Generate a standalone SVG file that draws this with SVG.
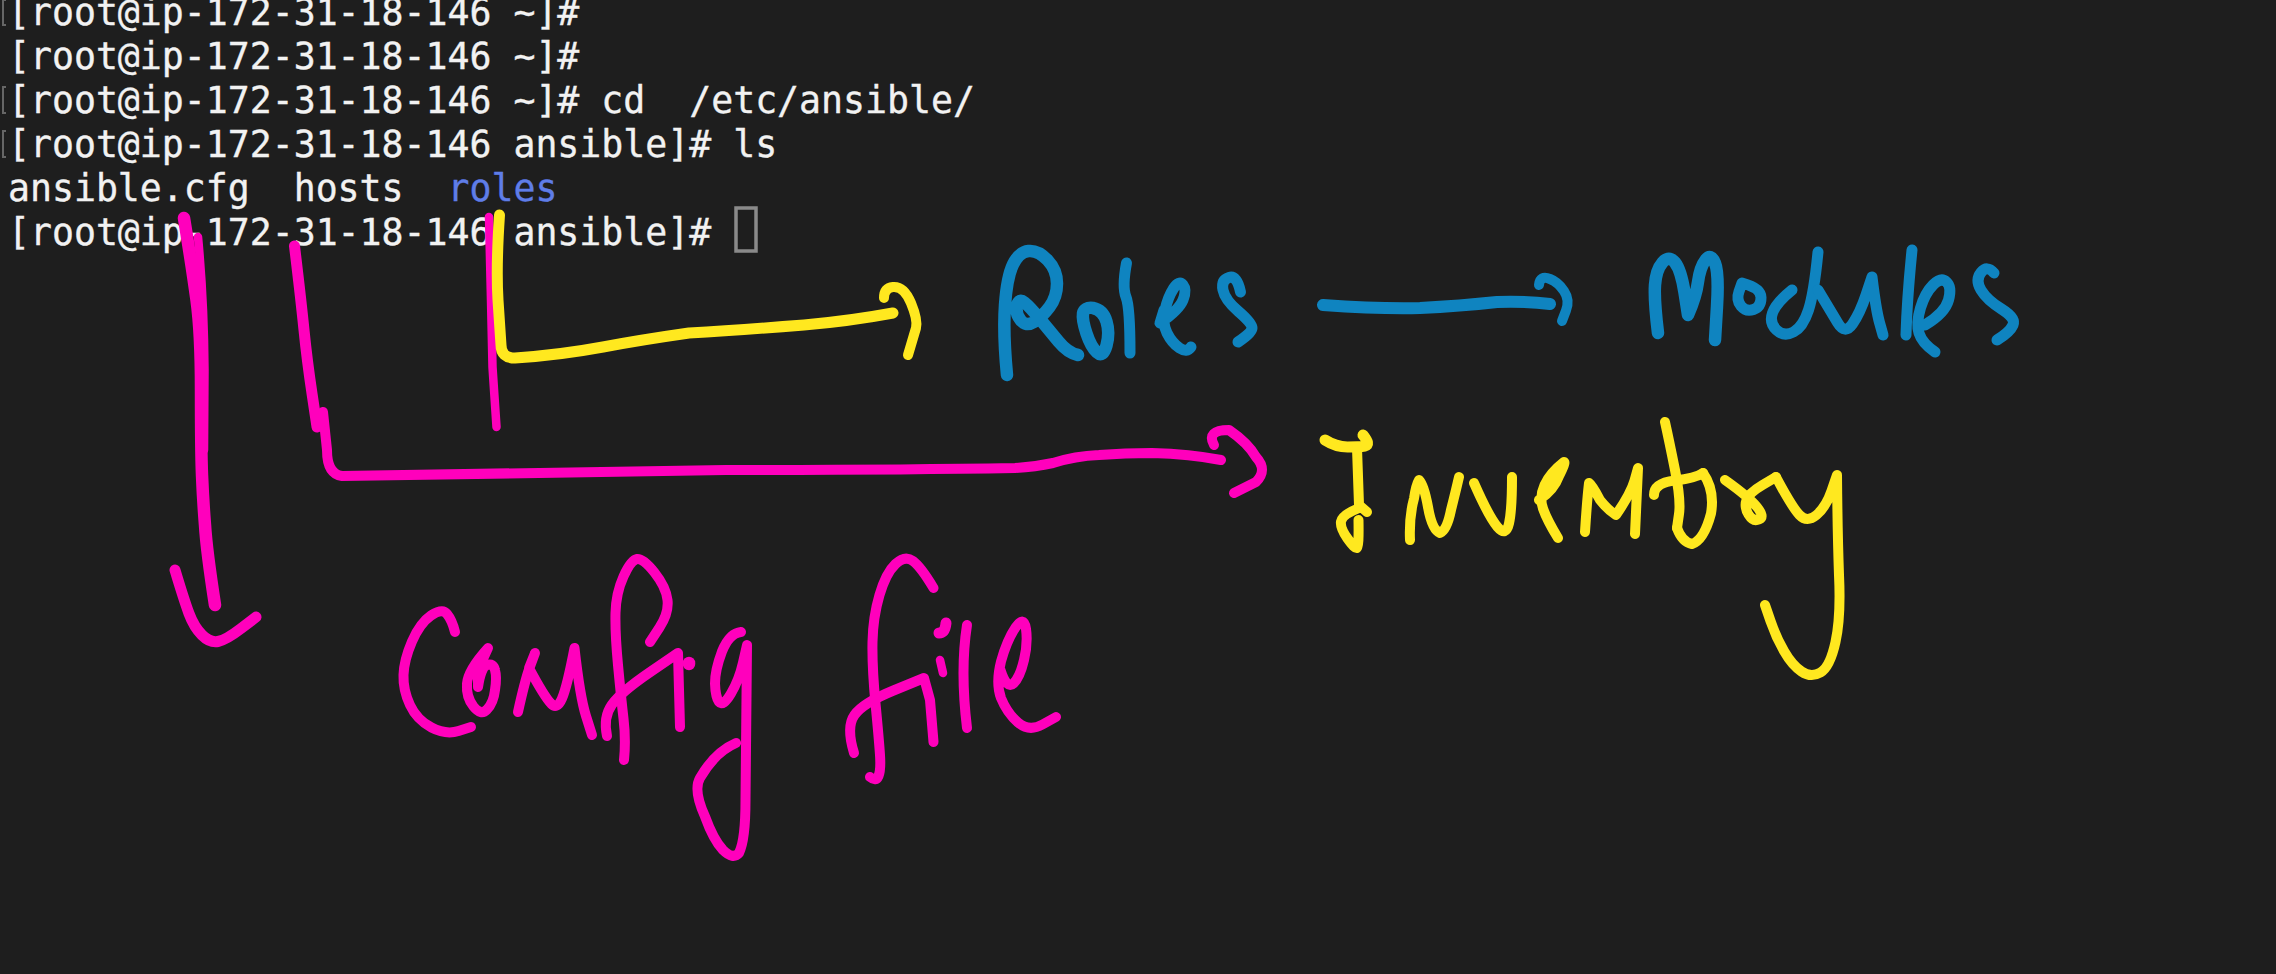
<svg xmlns="http://www.w3.org/2000/svg" width="2276" height="974" viewBox="0 0 2276 974">
<style>
text{font-family:"DejaVu Sans Mono","Liberation Mono",monospace;font-size:36.5px;fill:#f2f2f2;stroke:#f2f2f2;stroke-width:.35;white-space:pre}
.dir{fill:#5f7de8;stroke:#5f7de8}
.mark{fill:none;stroke:#666;stroke-width:2}
path.s{fill:none;stroke-linecap:round;stroke-linejoin:round}
.m{stroke:#ff00bc}.y{stroke:#ffe81f}.b{stroke:#0f84c0}
.w7{stroke-width:8.500}.w8{stroke-width:10}.w9{stroke-width:11}.w10{stroke-width:12.500}.w11{stroke-width:12}
</style>
<rect width="2276" height="974" fill="#1e1e1e"/>
<g id="terminal">
<text x="8" y="24.500">[root@ip-172-31-18-146 ~]#</text>
<text x="8" y="68.500">[root@ip-172-31-18-146 ~]#</text>
<text x="8" y="112.500">[root@ip-172-31-18-146 ~]# cd  /etc/ansible/</text>
<text x="8" y="156.500">[root@ip-172-31-18-146 ansible]# ls</text>
<text x="8" y="200.500">ansible.cfg  hosts  <tspan class="dir">roles</tspan></text>
<text x="8" y="244.500">[root@ip-172-31-18-146 ansible]#</text>
<rect x="736" y="208" width="20" height="43" fill="none" stroke="#8a8a8a" stroke-width="3.5"/>
<path class="mark" d="M6 0H3V25H6M6 87H3V113H6M6 131H3V157H6"/>
</g>
<g id="connectors">
<path class="s m w10" d="M184 218Q192 267 196.500 300Q201 333 201 390Q201 450 202 475Q203 500 205 525Q206.500 550 215 605"/>
<path class="s m w7" d="M198 237Q204 300 204.500 370L204 450"/>
<path class="s m w9" d="M175 570Q184 600 189 613.500Q194 627 202 635Q210 643 218 641.500Q226 640 241 628.500L256 617"/>
<path class="s m w9" d="M294.500 246Q301 300 304 330Q307 360 312 393.500L317 427"/>
<path class="s m w8" d="M323 412L327 450Q327 474 342 476Q540 473 726 470Q900 470 1015 468Q1035 467 1053 463Q1075 456 1099 455Q1125 453 1152 453Q1190 454 1221 460"/>
<path class="s m w8" d="M1214 445Q1206 430 1229 430Q1248 443 1256 457Q1268 470 1256 482L1234 493"/>
<path class="s m w7" d="M489 217L491 300L492.500 367L496.500 427"/>
<path class="s y w9" d="M499.500 215Q496 267 498 300L501 345Q501 358 515 358Q560 355 603 347Q640 340 689 333Q740 330 804 325Q850 321 893 313"/>
<path class="s y w8" d="M884 298Q884 288 893 287Q904 286 911 303Q918 320 916 328L908 355"/>
<path class="s b w11" d="M1323 305Q1380 309 1420 308Q1460 306 1497 302Q1525 301 1550 304"/>
<path class="s b w8" d="M1539 285Q1540 275 1550 279Q1558 282 1564 291Q1570 300 1566 310.500L1562 321"/>
</g>
<g id="roles">
<path class="s b w10" d="M1007 375Q1003 333 1005 305Q1007 277 1013 264.500Q1019 252 1028.500 251Q1038 250 1047.500 260Q1057 270 1057 283.500Q1057 297 1049.500 307Q1042 317 1034 322Q1026 327 1020.500 320Q1015 313 1017 305.500Q1019 298 1024.500 302.500Q1030 307 1039.500 318.500Q1049 330 1058.500 341.500Q1068 353 1078 355"/>
<path class="s b w10" d="M1093 308Q1103 310 1106.500 321.500Q1110 333 1106.500 345.500Q1103 358 1097 352.500Q1091 347 1086.500 333.500Q1082 320 1083 313.500Q1084 307 1093 308Z"/>
<path class="s b w9" d="M1126.500 263Q1122 287 1126 297Q1130 307 1130 353"/>
<path class="s b w9" d="M1164 310L1160 323Q1179 310 1183 300Q1187 290 1183 285Q1179 280 1173.500 288.500Q1168 297 1165 310Q1162 323 1167 333Q1172 343 1179.500 348Q1187 353 1191 347"/>
<path class="s b w9" d="M1240.500 292Q1237 275 1229 277.500Q1221 280 1223 290Q1225 300 1238.500 311.500Q1252 323 1252 328Q1252 333 1238 342"/>
</g>
<g id="modules">
<path class="s b w10" d="M1658 333Q1654 300 1655 285Q1656 270 1662.500 262.500Q1669 255 1675 262.500Q1681 270 1684.500 292.500L1688 315Q1696 297 1698 282Q1700 267 1705.500 260Q1711 253 1715 263Q1719 273 1717 306.500L1715 340"/>
<path class="s b w9" d="M1742 283Q1761 288 1761 297.500Q1761 307 1753.500 309.500Q1746 312 1741 306Q1736 300 1739 291.500L1742 283Z"/>
<path class="s b w9" d="M1792 290Q1776 303 1772.500 313Q1769 323 1776.500 330Q1784 337 1793.500 332Q1803 327 1808.500 310Q1814 293 1818 252"/>
<path class="s b w9" d="M1818 290Q1830 310 1837.500 322.500Q1845 335 1852.500 324Q1860 313 1866 295L1872 277Q1876 310 1879.500 322.500L1883 335"/>
<path class="s b w9" d="M1912 250Q1907 300 1906 335"/>
<path class="s b w9" d="M1925 325Q1945 313 1948.500 300Q1952 287 1946.500 282Q1941 277 1933 285Q1925 293 1920.500 308Q1916 323 1919 333Q1922 343 1935 352"/>
<path class="s b w9" d="M1994 273Q1987 265 1981 272.500Q1975 280 1981 290Q1987 300 2001.500 309Q2016 318 2013 325Q2010 332 1997 340"/>
</g>
<g id="inventory">
<path class="s y w9" d="M1325 440Q1336 447 1347.500 447Q1359 447 1365 446Q1371 445 1363 435"/>
<path class="s y w8" d="M1357 448L1359 505L1367 512M1359 508Q1342 515 1341 521.500Q1340 528 1347.500 538.500Q1355 549 1357 548Q1359 547 1358.500 520"/>
<path class="s y w8" d="M1410 540Q1409 517 1414 498.500Q1416 485 1419 480Q1424 485 1428 507Q1432 530 1440 533Q1447 530 1451 510Q1456 490 1459 477"/>
<path class="s y w8" d="M1474 483Q1489 517 1497.500 527Q1506 537 1509 523.500Q1512 510 1512 477"/>
<path class="s y w8" d="M1539 500Q1554 490 1559 476Q1566 462 1564 462Q1550 473 1544.500 485Q1539 497 1543 508.500Q1547 520 1558 538"/>
<path class="s y w8" d="M1585 532Q1587 500 1589 483Q1592 485 1600 500Q1608 510 1616 515Q1631 493 1634.500 480.500L1638 468L1635 534"/>
<path class="s y w8" d="M1665 422Q1669 440 1675 470Q1681 500 1679 514L1677 528"/>
<path class="s y w8" d="M1654 495Q1654 483 1675 480.500Q1696 478 1703 473"/>
<path class="s y w8" d="M1677 528Q1682 542 1692 544Q1704 540 1711 513.500Q1715 490 1703 473"/>
<path class="s y w8" d="M1725 480Q1749 497 1757 507Q1765 517 1759 519.500Q1753 522 1748.500 514.500Q1744 507 1746.500 500Q1749 493 1762.500 485L1776 477"/>
<path class="s y w8" d="M1776 477Q1792 507 1799.500 515Q1807 523 1816.500 515Q1826 507 1831.500 491L1837 475Q1837.500 533 1839 575Q1841 617 1835.500 642Q1830 667 1820.500 672.500Q1811 678 1801.500 671.500Q1792 665 1784 651Q1776 637 1770.500 621L1765 605"/>
</g>
<g id="config-file">
<path class="s m w8" d="M455 632Q452 620 447 614Q442.500 608 431 615.500Q420 623 412 641.500Q404 660 403.500 675Q403 690 410 705Q417 720 431.500 727.500Q446 735 458.500 731L471 727"/>
<path class="s m w8" d="M478 687L478 670L488 648Q468 670 467 683.500Q466 697 473.500 706.500Q481 716 487 709.500Q493.500 703 495 690Q497 677 495 670Q493.500 663 487 665Q481 667 478 687"/>
<path class="s m w8" d="M518 712Q525 680 530 666.500L535 653L529 668Q544.500 697 551 703.500Q557 710 562 698.500Q567 687 574.500 648Q580 697 586 716L592 735"/>
<path class="s m w8" d="M624 760Q626 740 623.500 718.500Q621 697 618 665Q615 633 615.500 613Q616 593 623.500 576.500Q631 560 637 559Q643 558 654.500 572.500Q666 587 667.500 600Q669 613 659.500 627.500L650 642"/>
<path class="s m w8" d="M607 736Q603 717 612 704.500Q621 692 649.500 672.500L678 653L680 727"/>
<path class="s m w10" d="M689 663L689 664"/>
<path class="s m w8" d="M741 632Q729.500 633 722 651.500Q715 670 715 683.500Q715.500 697 719 702Q723 707 731 693.500Q739 680 743 662.500L747 645L745.500 800Q745.500 840 739 853Q733 860 723 850Q713.500 840 705 816.500Q693 790 700 778Q715 752 736 743"/>
<path class="s m w8" d="M933.500 588Q921 567 913 561Q905 555 895.500 564Q886 573 879.500 595Q873 617 872.500 642Q872 667 875.500 703.500Q879 740 880 755Q881 770 878.500 776Q876 782 870 777"/>
<path class="s m w8" d="M854 753Q846 727 854.500 715Q863 703 893.500 690.500L924 678L930 700L933.500 742"/>
<path class="s m w9" d="M946 623Q945 633 939 633"/>
<path class="s m w7" d="M940 660L943 673"/>
<path class="s m w8" d="M967 625Q960 670 967 728"/>
<path class="s m w8" d="M1000.500 670Q1007 690 1013.500 683.500Q1020 677 1024 660Q1028 643 1026 629Q1024 615 1015.500 627.500Q1007 640 1001 661.500Q995.500 683 1001 698Q1007 713 1018 722.500Q1029 732 1042.500 724.500L1056 717"/>
</g>
</svg>
